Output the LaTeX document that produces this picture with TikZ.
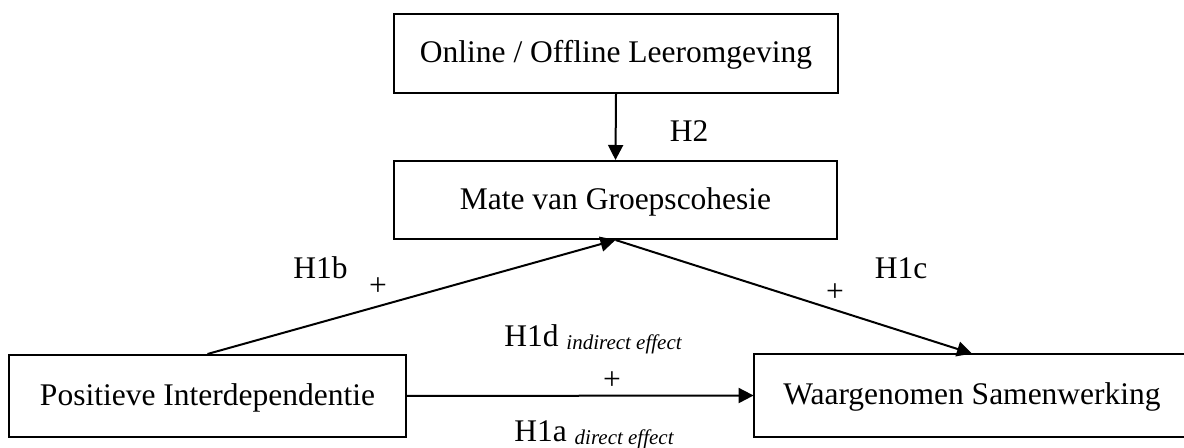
\documentclass[tikz,border=0pt]{standalone}
\usepackage{fontspec}
\setmainfont{Liberation Serif}
\usetikzlibrary{arrows.meta}
\newcommand{\mainsz}{\fontsize{15.75}{18}\selectfont}
\newcommand{\subsz}[1]{{\fontsize{10.5}{12}\selectfont\itshape\raisebox{-1.2pt}{#1}}}
\begin{document}
\begin{tikzpicture}[x=0.5pt,y=-0.5pt,
  box/.style={draw,line width=1pt,inner sep=0pt,font=\mainsz,text height=9.5pt,text depth=0pt},
  openbox/.style={inner sep=0pt,font=\mainsz,text height=9.5pt,text depth=0pt},
  lbl/.style={inner sep=0pt,font=\mainsz,anchor=base},
  plus/.style={inner sep=0pt,font=\mainsz,anchor=center},
  conn/.style={line width=1pt,-{Triangle[length=7.5pt,width=7.5pt]}},
  border/.style={line width=1pt}
]
\useasboundingbox (0,0) rectangle (1184,448);
\begin{scope}
\clip (0,0) rectangle (1184,448);

% boxes
\node[box,minimum width=222pt,minimum height=39.5pt] (top) at (616,53.5) {Online / Offline Leeromgeving};
\node[box,minimum width=221.5pt,minimum height=39pt] (mid) at (615.5,200) {Mate van Groepscohesie};
\node[box,minimum width=198.5pt,minimum height=41pt] (left) at (207.5,396) {Positieve Interdependentie};
% right box runs past the picture's right edge: no right side shown
\node[openbox,minimum width=218pt,minimum height=41.5pt] (right) at (972,395.5) {Waargenomen Samenwerking};
\draw[border] ([xshift=40pt]right.north east) -- (right.north west) -- (right.south west) -- ([xshift=40pt]right.south east);
\end{scope}

% connectors
\draw[conn] (top.south) -- (mid.north);
\draw[conn] (left.north) -- (mid.south);
\draw[conn] (mid.south) -- (right.north);
\draw[conn] (left.east) -- (right.west);

% labels
\node[lbl] (lh2) at (689,142) {H2};
\node[lbl] (lh1b) at (320.5,279) {H1b};
\node[plus] (p1b) at (378,287) {+};
\node[lbl] (lh1c) at (901,279) {H1c};
\node[plus] (p1c) at (835,293) {+};
\node[lbl] (lh1d) at (593,347) {H1d \subsz{indirect effect}};
\node[plus] (p1d) at (612,381) {+};
\node[lbl] (lh1a) at (594,442) {H1a \subsz{direct effect}};
\end{tikzpicture}
\end{document}
